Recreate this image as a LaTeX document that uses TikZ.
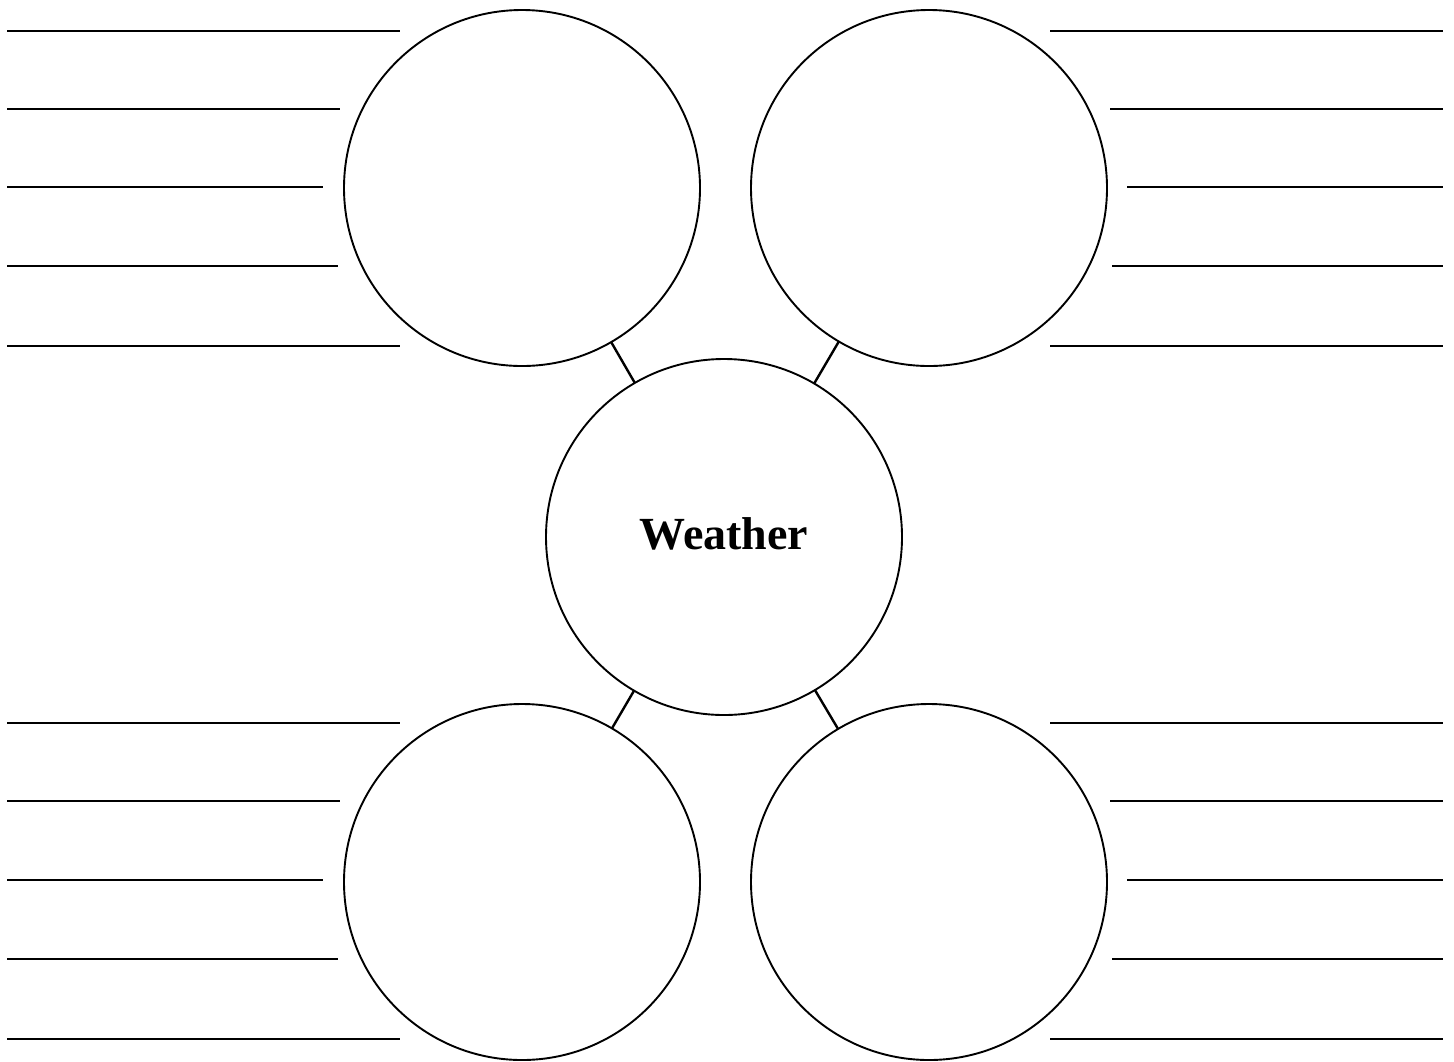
\documentclass[tikz,border=0pt]{standalone}
\usepackage{fontspec}
\setmainfont{Liberation Serif}
\begin{document}
\begin{tikzpicture}[x=1pt,y=-1pt,
  bubble/.style={draw=black,circle,line width=1.9pt,minimum size=356pt,inner sep=0pt,outer sep=0pt},
  link/.style={line width=2.4pt},
  rule/.style={line width=1.5pt}]
\useasboundingbox[fill=white] (0,0) rectangle (1454,1061);
\node[bubble] (tl) at (522,188) {};
\node[bubble] (tr) at (929,188) {};
\node[bubble] (c) at (724,537) {\raisebox{7pt}{\fontsize{46}{50}\selectfont\bfseries Weather}};
\node[bubble] (bl) at (522,882) {};
\node[bubble] (br) at (929,882) {};
\draw[link] (tl) -- (c);
\draw[link] (tr) -- (c);
\draw[link] (bl) -- (c);
\draw[link] (br) -- (c);
% left rules
\foreach \y/\x in {31/400,109/340,187/323,266/338,346/400,723/400,801/340,880/323,959/338,1039/400}
  \draw[rule] (7,\y) -- (\x,\y);
\foreach \y/\x in {31/1050,109/1110,187/1127,266/1112,346/1050,723/1050,801/1110,880/1127,959/1112,1039/1050}
  \draw[rule] (\x,\y) -- (1443,\y);
\end{tikzpicture}
\end{document}
